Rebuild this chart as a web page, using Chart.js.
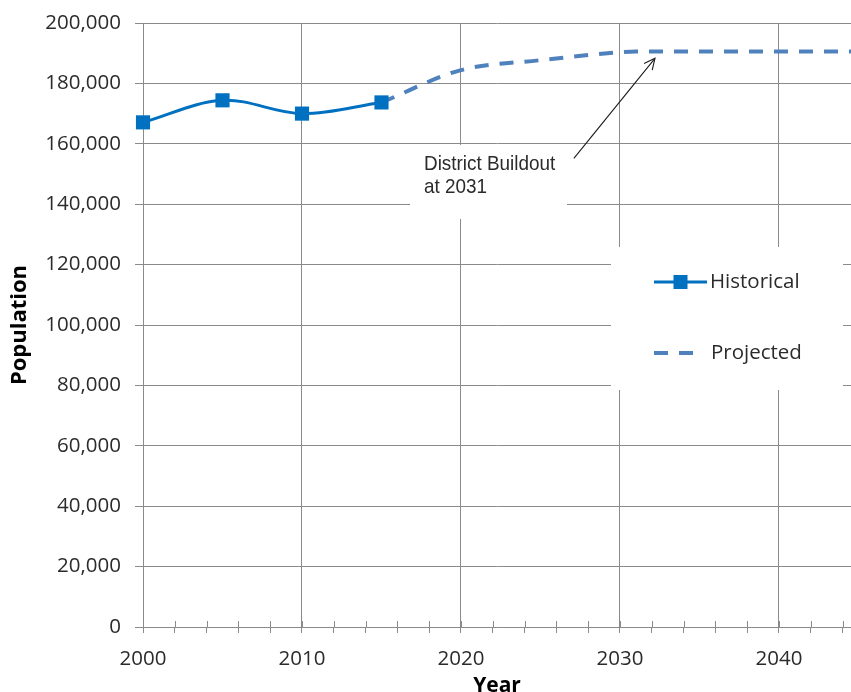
<!DOCTYPE html>
<html>
<head>
<meta charset="utf-8">
<script src="https://cdn.jsdelivr.net/npm/chart.js@4/dist/chart.umd.min.js"></script>
<style>
  html, body { margin: 0; padding: 0; background: #fff; overflow: hidden; }
  #wrap { width: 851px; height: 692px; position: relative; }
</style>
</head>
<body>
<div id="wrap"><canvas id="chart" width="851" height="692"></canvas></div>
<script>
// Population series
const historicalYears = [2000, 2005, 2010, 2015];
const historicalPopulation = [167100, 174400, 170000, 173700];
const projectedYears = [2015, 2020, 2025, 2030, 2031, 2035, 2040, 2045];
const projectedPopulation = [173700, 184400, 187700, 190300, 190600, 190600, 190600, 190600];

// Axis ticks
const populationTicks = [0, 20000, 40000, 60000, 80000, 100000, 120000, 140000, 160000, 180000, 200000];
const labelledYears = [2000, 2010, 2020, 2030, 2040];

// Callout text and the point its arrow marks
const buildoutNote = ['District Buildout', 'at 2031'];
const buildoutArrowTip = { year: 2032.2, population: 188300 };
const buildoutArrowTail = { year: 2027.1, population: 155200 };

const gridColor = '#8a8a8a';
const textColor = '#2b2b2b';
const tickFont = { family: '"Open Sans", sans-serif', size: 20.5 };

const toPoints = (xs, ys) => xs.map((x, i) => ({ x, y: ys[i] }));

// Scales keep their fixed size and add no edge padding of their own
const fixScale = size => scale => {
  if (scale.isHorizontal()) scale.height = size; else scale.width = size;
  scale.paddingLeft = scale.paddingRight = scale.paddingTop = scale.paddingBottom = 0;
};

// White panels, callout, arrow and legend drawn over the grid
const overlay = {
  id: 'overlay',
  beforeDatasetsDraw(chart) {
    const { ctx, chartArea: a, scales: { x } } = chart;
    ctx.save();
    // minor year ticks also rise a little above the axis line
    ctx.strokeStyle = gridColor;
    ctx.lineWidth = 1;
    x.ticks.forEach(t => {
      const px = Math.round(x.getPixelForValue(t.value)) + 0.5;
      ctx.beginPath();
      ctx.moveTo(px, a.bottom - 6);
      ctx.lineTo(px, a.bottom);
      ctx.stroke();
    });
    ctx.fillStyle = '#ffffff';
    // callout panel
    ctx.fillRect(a.left + 267, a.top + 122, 157, 74);
    // legend panel
    ctx.fillRect(a.left + 468, a.top + 224, 232, 143);
    ctx.restore();
  },
  afterDatasetsDraw(chart) {
    const { ctx, chartArea: a, scales: { x, y } } = chart;
    const [hist, proj] = chart.data.datasets;
    ctx.save();

    // callout text
    ctx.fillStyle = textColor;
    ctx.font = '21px "Liberation Sans", Arial, sans-serif';
    ctx.textBaseline = 'alphabetic';
    ctx.textAlign = 'left';
    buildoutNote.forEach((line, i) => {
      ctx.save();
      ctx.translate(a.left + 281, a.top + 147 + i * 23);
      ctx.scale(0.9, 1);
      ctx.fillText(line, 0, 0);
      ctx.restore();
    });

    // arrow
    const tx = x.getPixelForValue(buildoutArrowTip.year);
    const ty = y.getPixelForValue(buildoutArrowTip.population);
    const sx = x.getPixelForValue(buildoutArrowTail.year);
    const sy = y.getPixelForValue(buildoutArrowTail.population);
    const ang = Math.atan2(ty - sy, tx - sx);
    ctx.strokeStyle = '#1a1a1a';
    ctx.lineWidth = 1.1;
    ctx.beginPath();
    ctx.moveTo(sx, sy);
    ctx.lineTo(tx, ty);
    ctx.stroke();
    ctx.beginPath();
    const head = 12, spread = 0.45;
    ctx.moveTo(tx - head * Math.cos(ang - spread), ty - head * Math.sin(ang - spread));
    ctx.lineTo(tx, ty);
    ctx.lineTo(tx - head * Math.cos(ang + spread), ty - head * Math.sin(ang + spread));
    ctx.stroke();

    // legend
    const lx = a.left + 511, ly1 = a.top + 259, ly2 = a.top + 330;
    ctx.lineCap = 'butt';
    ctx.strokeStyle = hist.borderColor;
    ctx.lineWidth = hist.borderWidth;
    ctx.beginPath();
    ctx.moveTo(lx, ly1);
    ctx.lineTo(lx + 53, ly1);
    ctx.stroke();
    ctx.fillStyle = hist.backgroundColor;
    ctx.fillRect(lx + 26.5 - 7, ly1 - 7, 14, 14);

    ctx.strokeStyle = proj.borderColor;
    ctx.lineWidth = proj.borderWidth;
    ctx.setLineDash(proj.borderDash);
    ctx.beginPath();
    ctx.moveTo(lx, ly2);
    ctx.lineTo(lx + 39, ly2);
    ctx.stroke();
    ctx.setLineDash([]);

    ctx.fillStyle = textColor;
    ctx.font = '20.5px "Open Sans", sans-serif';
    ctx.textBaseline = 'middle';
    ctx.fillText(hist.label, lx + 56, ly1);
    ctx.fillText(proj.label, lx + 57, ly2);
    ctx.restore();
  }
};

new Chart(document.getElementById('chart'), {
  type: 'line',
  data: {
    datasets: [
      {
        label: 'Historical',
        data: toPoints(historicalYears, historicalPopulation),
        borderColor: '#0070C0',
        backgroundColor: '#0070C0',
        borderWidth: 3,
        pointStyle: 'rect',
        pointRadius: 10,
        pointBorderWidth: 0,
        pointBackgroundColor: '#0070C0',
        tension: 0.35,
        clip: false
      },
      {
        label: 'Projected',
        data: toPoints(projectedYears, projectedPopulation),
        borderColor: '#4F81BD',
        backgroundColor: '#4F81BD',
        borderWidth: 4,
        borderDash: [14, 11],
        borderCapStyle: 'butt',
        pointRadius: 0,
        cubicInterpolationMode: 'monotone'
      }
    ]
  },
  options: {
    responsive: false,
    animation: false,
    events: [],
    layout: { autoPadding: false, padding: { top: 23, right: 0, bottom: 0, left: 0 } },
    plugins: { legend: { display: false }, tooltip: { enabled: false } },
    scales: {
      x: {
        type: 'linear',
        min: 2000,
        max: 2044.53,
        afterFit: fixScale(65),
        ticks: {
          stepSize: 2,
          includeBounds: false,
          autoSkip: false,
          maxRotation: 0,
          padding: 14,
          color: textColor,
          font: tickFont,
          callback: v => labelledYears.includes(v) ? String(v) : ''
        },
        grid: {
          color: c => (c.tick && labelledYears.includes(c.tick.value)) ? gridColor : 'rgba(0,0,0,0)',
          tickColor: gridColor,
          tickLength: 6,
          lineWidth: 1
        },
        border: { color: gridColor, width: 1 },
        title: {
          display: true,
          text: 'Year',
          color: '#000',
          font: { family: '"Open Sans", sans-serif', size: 21, weight: 'bold', lineHeight: 0.6 },
          padding: 0
        }
      },
      y: {
        type: 'linear',
        min: 0,
        max: 200000,
        afterFit: fixScale(143),
        afterBuildTicks(scale) { scale.ticks = populationTicks.map(v => ({ value: v })); },
        ticks: {
          padding: 14,
          color: textColor,
          font: tickFont,
          callback: v => v.toLocaleString('en-US')
        },
        grid: { color: gridColor, tickColor: gridColor, tickLength: 8, lineWidth: 1 },
        border: { color: gridColor, width: 1 },
        title: {
          display: true,
          text: 'Population',
          color: '#000',
          font: { family: '"Open Sans", sans-serif', size: 22, weight: 'bold' },
          padding: { top: 7, bottom: 0 }
        }
      }
    }
  },
  plugins: [overlay]
});
</script>
</body>
</html>
